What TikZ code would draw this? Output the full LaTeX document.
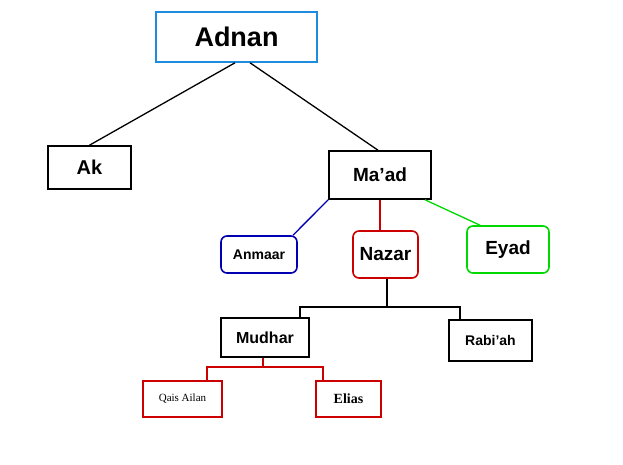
\documentclass[tikz,border=0pt]{standalone}
\usepackage{fontspec}
\setmainfont{Liberation Sans}
\newfontfamily\serifb{Liberation Serif}
\newcommand{\fs}[1]{\fontsize{#1}{#1}\selectfont}
\begin{document}
\begin{tikzpicture}[x=1pt,y=-1pt,
  bx/.style={draw,line width=1.6pt,inner sep=0pt,font=\bfseries\fs{16}},
  ln/.style={line width=1.3pt}]
\useasboundingbox (0,0) rectangle (623,465);
\fill[white] (0,0) rectangle (623,465);
\node[bx,draw={rgb,255:red,30;green,140;blue,220},minimum width=161pt,minimum height=50pt,font=\bfseries\fs{27}] (adnan) at (236.5,37) {Adnan};
\node[bx,minimum width=83pt,minimum height=43pt,font=\bfseries\fs{20}] (ak) at (89.5,167.5) {Ak};
\node[bx,minimum width=102pt,minimum height=48pt,font=\bfseries\fs{19}] (maad) at (380,175) {Ma'ad};
\node[bx,draw=blue!70!black,rounded corners=6pt,minimum width=76pt,minimum height=37pt,font=\bfseries\fs{14}] (anmaar) at (259,254.5) {Anmaar};
\node[bx,draw=red!80!black,rounded corners=6pt,minimum width=65pt,minimum height=47pt,font=\bfseries\fs{19}] (nazar) at (385.5,254.5) {Nazar};
\node[bx,draw=green!85!black,rounded corners=6pt,minimum width=82pt,minimum height=47pt,font=\bfseries\fs{19}] (eyad) at (508,249.5) {Eyad};
\node[bx,minimum width=88pt,minimum height=39pt] (mudhar) at (265,337.5) {Mudhar};
\node[bx,minimum width=83pt,minimum height=41pt,font=\bfseries\fs{14}] (rabiah) at (490.5,340.5) {Rabi'ah};
\node[bx,draw=red!80!black,minimum width=79pt,minimum height=36pt,font=\serifb\fs{11}] (qais) at (182.5,399) {Qais Ailan};
\node[bx,draw=red!80!black,minimum width=65pt,minimum height=36pt,font=\serifb\bfseries\fs{14}] (elias) at (348.5,399) {Elias};
\draw[ln] (adnan.south -| 235,0) -- (ak.north);
\draw[ln] (adnan.south -| 250,0) -- (maad.north -| 378,0);
\draw[ln,blue!70!black] (maad.south west) -- (anmaar.north -| 293,0);
\draw[ln,red!80!black] (maad.south -| 380,0) -- (nazar.north -| 380,0);
\draw[ln,green!85!black] (maad.south -| 425,0) -- (eyad.north -| 480,0);
\coordinate (hb) at (387,307);
\draw[ln] (nazar.south -| hb) -- (hb);
\draw[ln] (mudhar.north -| 300,0) -- (300,307) -- (460,307) -- (rabiah.north -| 460,0);
\draw[ln,red!80!black] (mudhar.south -| 263,0) -- (263,367);
\draw[ln,red!80!black] (qais.north -| 207,0) -- (207,367) -- (323,367) -- (elias.north -| 323,0);
\end{tikzpicture}
\end{document}
